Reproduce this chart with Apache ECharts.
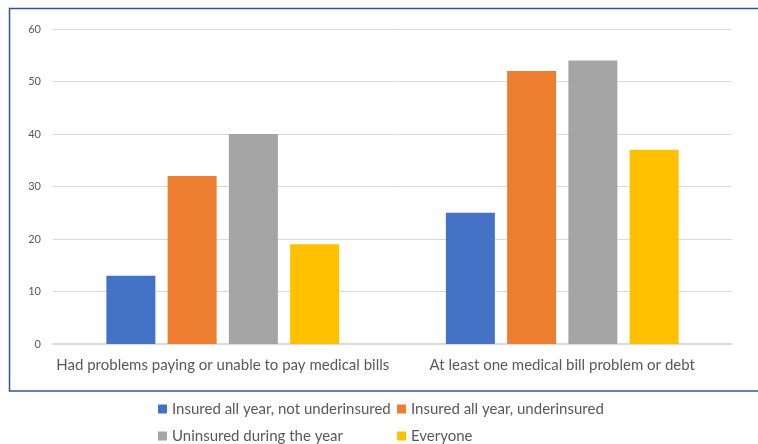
<!DOCTYPE html>
<html>
<head>
<meta charset="utf-8">
<script src="https://cdn.jsdelivr.net/npm/echarts@6/dist/echarts.min.js"></script>
<style>
  html, body { margin: 0; padding: 0; background: #ffffff; }
  #chart { width: 758px; height: 444px; }
</style>
</head>
<body>
<div id="chart"></div>
<script>
// Medical bill problems by insurance status (percent)
const categories = [
  'Had problems paying or unable to pay medical bills',
  'At least one medical bill problem or debt'
];
const seriesNames = [
  'Insured all year, not underinsured',
  'Insured all year, underinsured',
  'Uninsured during the year',
  'Everyone'
];
const insuredNotUnder = [13, 25];
const insuredUnder = [32, 52];
const uninsured = [40, 54];
const everyone = [19, 37];
const yTicks = [0, 10, 20, 30, 40, 50, 60];

const colors = ['#4472c4', '#ed7d31', '#a5a5a5', '#ffc000'];
const values = [insuredNotUnder, insuredUnder, uninsured, everyone];
const fontFamily = 'Lato, "Open Sans", sans-serif';

const chart = echarts.init(document.getElementById('chart'), null, { renderer: 'canvas' });

const legendText = { color: '#595959', fontSize: 15, fontFamily: fontFamily, lineHeight: 18 };

// Two legend columns, stacked vertically
function legendColumn(names, left) {
  return {
    data: names,
    orient: 'vertical',
    left: left, top: 400, height: 100,
    itemWidth: 9, itemHeight: 9, itemGap: 9,
    icon: 'rect',
    textStyle: legendText,
    padding: 0
  };
}

chart.setOption({
  animation: false,
  color: colors,
  graphic: [{
    type: 'rect',
    shape: { x: 9.5, y: 8.5, width: 760, height: 382.5 },
    style: { fill: 'none', stroke: '#2f5597', lineWidth: 1.5 },
    silent: true,
    z: 100
  }],
  grid: { left: 53, right: 26, top: 29, bottom: 100, containLabel: false },
  legend: [
    legendColumn([seriesNames[0], seriesNames[2]], 158),
    legendColumn([seriesNames[1], seriesNames[3]], 397)
  ],
  xAxis: {
    type: 'category',
    data: categories,
    axisTick: { show: false },
    axisLine: { show: true, lineStyle: { color: '#d9d9d9', width: 2 } },
    axisLabel: { color: '#595959', fontSize: 15, fontFamily: fontFamily, margin: 14, interval: 0 }
  },
  yAxis: {
    type: 'value',
    min: yTicks[0],
    max: yTicks[yTicks.length - 1],
    interval: 10,
    axisLine: { show: false },
    axisTick: { show: false },
    axisLabel: { color: '#595959', fontSize: 11, fontFamily: fontFamily, margin: 12 },
    splitLine: { lineStyle: { color: '#d9d9d9', width: 1 } }
  },
  series: seriesNames.map((name, i) => ({
    name: name,
    type: 'bar',
    data: values[i],
    barWidth: 49,
    barGap: '25%',
    itemStyle: { color: colors[i] }
  }))
});
</script>
</body>
</html>
